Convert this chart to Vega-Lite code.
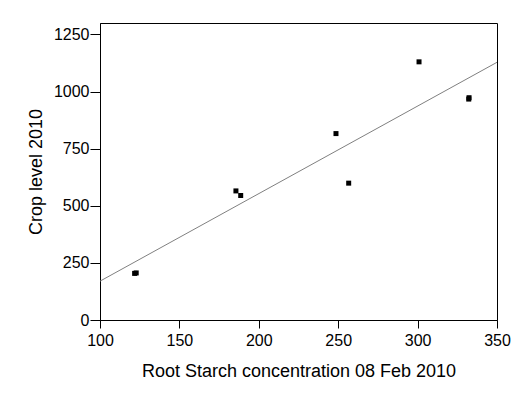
{
  "$schema": "https://vega.github.io/schema/vega-lite/v6.json",
  "width": 397,
  "height": 297,
  "autosize": {"type": "none"},
  "padding": {"left": 100, "top": 23, "right": 17, "bottom": 74},
  "background": "white",
  "config": {
    "view": {"stroke": "black", "strokeWidth": 1},
    "font": "Liberation Sans",
    "axis": {
      "domainColor": "black",
      "tickColor": "black",
      "labelColor": "black",
      "titleColor": "black",
      "labelFont": "Liberation Sans",
      "titleFont": "Liberation Sans",
      "labelFontSize": 16,
      "titleFontSize": 18,
      "titleFontWeight": "normal",
      "grid": false
    }
  },
  "datasets": {
    "points": [
      {"starch": 121.8, "crop": 204},
      {"starch": 122.8, "crop": 206},
      {"starch": 185.6, "crop": 565},
      {"starch": 188.6, "crop": 545},
      {"starch": 248.6, "crop": 816},
      {"starch": 256.6, "crop": 599},
      {"starch": 300.9, "crop": 1130},
      {"starch": 332.2, "crop": 967},
      {"starch": 332.4, "crop": 973}
    ],
    "fit": [
      {"starch": 100, "crop": 170},
      {"starch": 350, "crop": 1128}
    ]
  },
  "layer": [
    {
      "data": {"name": "fit"},
      "mark": {"type": "line", "color": "#808080", "strokeWidth": 1},
      "encoding": {
        "x": {"field": "starch", "type": "quantitative"},
        "y": {"field": "crop", "type": "quantitative"}
      }
    },
    {
      "data": {"name": "points"},
      "mark": {"type": "point", "shape": "square", "filled": true, "color": "black", "size": 25, "opacity": 1},
      "encoding": {
        "x": {
          "field": "starch",
          "type": "quantitative",
          "scale": {"domain": [100, 350], "nice": false, "zero": false},
          "axis": {
            "title": "Root Starch concentration 08 Feb 2010",
            "values": [100, 150, 200, 250, 300, 350],
            "tickSize": 8,
            "labelPadding": 4,
            "titlePadding": 14,
            "labelFlush": false
          }
        },
        "y": {
          "field": "crop",
          "type": "quantitative",
          "scale": {"domain": [0, 1300], "nice": false},
          "axis": {
            "title": "Crop level 2010",
            "values": [0, 125, 250, 375, 500, 625, 750, 875, 1000, 1125, 1250],
            "labelExpr": "datum.value % 250 === 0 ? datum.label : ''",
            "format": "d",
            "tickSize": {"condition": {"test": "datum.value % 250 === 0", "value": 10}, "value": 6},
            "labelPadding": 1,
            "titlePadding": 8,
            "labelFlush": false
          }
        }
      }
    }
  ]
}
